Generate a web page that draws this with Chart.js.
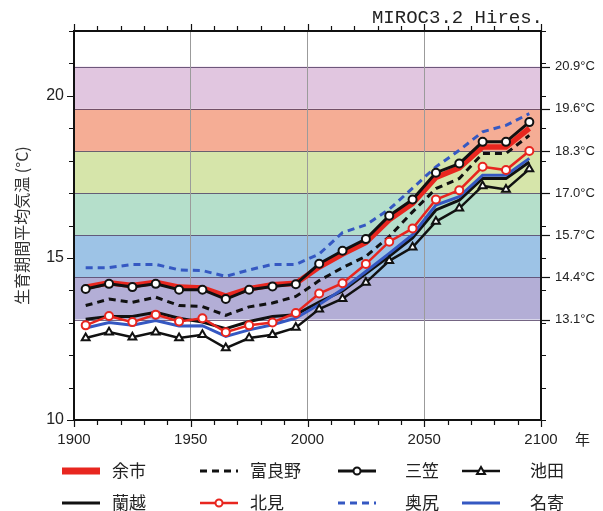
<!DOCTYPE html>
<html lang="ja">
<head>
    <meta charset="UTF-8">
    <title>生育期間平均気温 - MIROC3.2 Hires.</title>
    <style>
        body {
            margin: 0;
            padding: 0;
            background: #fff;
        }
        #wrap {
            width: 603px;
            height: 511px;
        }
    </style>
    <script src="https://cdn.jsdelivr.net/npm/chart.js"></script>
</head>
<body>
    <div id="wrap"><canvas id="tempChart" width="603" height="511"></canvas></div>

    <script>
        // data (growing season mean temperature, °C)
        const years = [1905, 1915, 1925, 1935, 1945, 1955, 1965, 1975, 1985, 1995,
                       2005, 2015, 2025, 2035, 2045, 2055, 2065, 2075, 2085, 2095];

        const yoichi   = [14.10, 14.23, 14.15, 14.25, 14.10, 14.07, 13.82, 14.05, 14.17, 14.22,
                          14.72, 15.12, 15.48, 16.18, 16.68, 17.48, 17.78, 18.42, 18.42, 19.00];
        const furano   = [13.53, 13.73, 13.63, 13.79, 13.53, 13.50, 13.23, 13.49, 13.61, 13.81,
                          14.30, 14.70, 15.05, 15.66, 16.42, 17.14, 17.45, 18.22, 18.22, 18.78];
        const mikasa   = [14.04, 14.20, 14.10, 14.20, 14.02, 14.02, 13.73, 14.02, 14.12, 14.19,
                          14.82, 15.22, 15.58, 16.30, 16.80, 17.63, 17.91, 18.58, 18.58, 19.19];
        const ikeda    = [12.53, 12.71, 12.55, 12.71, 12.53, 12.63, 12.22, 12.53, 12.63, 12.85,
                          13.42, 13.74, 14.24, 14.91, 15.33, 16.12, 16.53, 17.22, 17.11, 17.74];
        const rankoshi = [13.11, 13.19, 13.19, 13.32, 13.14, 13.02, 12.82, 13.04, 13.19, 13.25,
                          13.64, 13.98, 14.52, 15.05, 15.62, 16.48, 16.78, 17.45, 17.45, 17.96];
        const kitami   = [12.92, 13.21, 13.02, 13.25, 13.04, 13.14, 12.71, 12.92, 13.01, 13.30,
                          13.90, 14.22, 14.81, 15.50, 15.91, 16.80, 17.09, 17.81, 17.71, 18.30];
        const okushiri = [14.70, 14.70, 14.80, 14.80, 14.63, 14.61, 14.43, 14.63, 14.80, 14.80,
                          15.12, 15.78, 16.02, 16.50, 17.15, 17.81, 18.32, 18.89, 19.09, 19.45];
        const nayoro   = [12.84, 13.01, 12.92, 13.07, 12.90, 12.91, 12.58, 12.78, 12.94, 13.14,
                          13.56, 14.03, 14.58, 15.14, 15.72, 16.63, 16.89, 17.55, 17.55, 18.07];

        const stationNames = ['余市', '富良野', '三笠', '池田', '蘭越', '北見', '奥尻', '名寄'];

        // temperature classes on the right axis
        const bandEdges = [13.1, 14.4, 15.7, 17.0, 18.3, 19.6, 20.9];
        const bandColors = ['#b3aed6', '#9dc3e6', '#b5dfcb', '#d6e5aa', '#f5ad95', '#e1c6e0'];

        const leftLabels = [10, 15, 20];
        const xLabels = [1900, 1950, 2000, 2050, 2100];

        const RED = '#e8261f';
        const BLACK = '#111111';
        const BLUE = '#3558c2';
        const CJK = '"Noto Sans CJK JP", "Noto Sans", sans-serif';
        const SANS = '"Liberation Sans", Arial, sans-serif';

        function series(vals) {
            return vals.map((v, i) => ({ x: years[i], y: v }));
        }

        // order: lower number is drawn on top
        function line(label, vals, color, width, order, extra) {
            return Object.assign({
                label: label,
                data: series(vals),
                borderColor: color,
                backgroundColor: color,
                borderWidth: width,
                pointRadius: 0,
                pointHoverRadius: 0,
                tension: 0,
                fill: false,
                order: order
            }, extra || {});
        }

        const marker = (color, style) => ({
            pointRadius: style === 'triangle' ? 4.5 : 4,
            pointStyle: style,
            pointBackgroundColor: '#fff',
            pointBorderColor: color,
            pointBorderWidth: 2
        });

        const datasets = [
            line(stationNames[0], yoichi, RED, 5.5, 8),
            line(stationNames[1], furano, BLACK, 3, 6, { borderDash: [7, 5] }),
            line(stationNames[2], mikasa, BLACK, 3, 1, marker(BLACK, 'circle')),
            line(stationNames[3], ikeda, BLACK, 2.5, 3, marker(BLACK, 'triangle')),
            line(stationNames[4], rankoshi, BLACK, 3, 5),
            line(stationNames[5], kitami, RED, 2.5, 2, marker(RED, 'circle')),
            line(stationNames[6], okushiri, BLUE, 3, 7, { borderDash: [7, 5] }),
            line(stationNames[7], nayoro, BLUE, 3, 4)
        ];

        // coloured bands behind everything
        const bandsPlugin = {
            id: 'bands',
            beforeDraw(chart) {
                const { ctx, chartArea: a, scales: { y } } = chart;
                ctx.save();
                for (let i = 0; i < bandColors.length; i++) {
                    const top = y.getPixelForValue(bandEdges[i + 1]);
                    const bot = y.getPixelForValue(bandEdges[i]);
                    ctx.fillStyle = bandColors[i];
                    ctx.fillRect(a.left, top, a.right - a.left, bot - top);
                }
                ctx.strokeStyle = 'rgba(70, 50, 90, 0.75)';
                ctx.lineWidth = 1;
                bandEdges.forEach(v => {
                    const py = Math.round(y.getPixelForValue(v)) + 0.5;
                    ctx.beginPath();
                    ctx.moveTo(a.left, py);
                    ctx.lineTo(a.right, py);
                    ctx.stroke();
                });
                ctx.restore();
            }
        };

        // frame, minor ticks, title, legend
        const decorPlugin = {
            id: 'decor',
            afterDraw(chart) {
                const { ctx, chartArea: a, scales: { x, y } } = chart;
                ctx.save();
                ctx.strokeStyle = BLACK;

                // top border
                ctx.lineWidth = 2;
                ctx.beginPath();
                ctx.moveTo(a.left - 1, a.top);
                ctx.lineTo(a.right + 1, a.top);
                ctx.stroke();

                // x ticks every 10 years, top and bottom
                ctx.lineWidth = 1.2;
                for (let yr = 1900; yr <= 2100; yr += 10) {
                    const px = Math.round(x.getPixelForValue(yr)) + 0.5;
                    const len = yr % 50 === 0 ? 7 : 5;
                    ctx.beginPath();
                    ctx.moveTo(px, a.bottom);
                    ctx.lineTo(px, a.bottom + len);
                    ctx.moveTo(px, a.top);
                    ctx.lineTo(px, a.top - len);
                    ctx.stroke();
                }

                // y ticks every 1 degree, left and right
                for (let v = 10; v <= 22; v++) {
                    const py = Math.round(y.getPixelForValue(v)) + 0.5;
                    const len = v % 5 === 0 ? 7 : 5;
                    ctx.beginPath();
                    ctx.moveTo(a.left, py);
                    ctx.lineTo(a.left - len, py);
                    ctx.moveTo(a.right, py);
                    ctx.lineTo(a.right + 5, py);
                    ctx.stroke();
                }
                // band ticks on the right
                bandEdges.forEach(v => {
                    const py = Math.round(y.getPixelForValue(v)) + 0.5;
                    ctx.beginPath();
                    ctx.moveTo(a.right, py);
                    ctx.lineTo(a.right + 9, py);
                    ctx.stroke();
                });

                // model name
                ctx.fillStyle = '#222';
                ctx.font = '19px "Liberation Mono", "DejaVu Sans Mono", monospace';
                ctx.textAlign = 'right';
                ctx.textBaseline = 'alphabetic';
                ctx.fillText('MIROC3.2 Hires.', a.right + 2, 23);

                // unit after the x axis
                ctx.font = '15px ' + CJK;
                ctx.textAlign = 'left';
                ctx.textBaseline = 'middle';
                ctx.fillText('年', 575, 439);

                // legend, 4 columns x 2 rows
                const colX = [62, 200, 338, 462];
                const textX = [112, 250, 405, 530];
                const rowY = [471, 503];
                chart.data.datasets.forEach((ds, i) => {
                    const col = i % 4, row = Math.floor(i / 4);
                    const x0 = colX[col], x1 = x0 + 38, yy = rowY[row];
                    ctx.save();
                    ctx.strokeStyle = ds.borderColor;
                    ctx.lineWidth = ds.borderWidth === 5.5 ? 7 : ds.borderWidth;
                    ctx.setLineDash(ds.borderDash || []);
                    ctx.beginPath();
                    ctx.moveTo(x0, yy);
                    ctx.lineTo(x1, yy);
                    ctx.stroke();
                    ctx.setLineDash([]);
                    if (ds.pointStyle) {
                        const cx = (x0 + x1) / 2;
                        ctx.fillStyle = '#fff';
                        ctx.strokeStyle = ds.pointBorderColor;
                        ctx.lineWidth = 2;
                        ctx.beginPath();
                        if (ds.pointStyle === 'circle') {
                            ctx.arc(cx, yy, 3.5, 0, Math.PI * 2);
                        } else {
                            ctx.moveTo(cx, yy - 4);
                            ctx.lineTo(cx + 4, yy + 3);
                            ctx.lineTo(cx - 4, yy + 3);
                            ctx.closePath();
                        }
                        ctx.fill();
                        ctx.stroke();
                    }
                    ctx.restore();
                    ctx.fillStyle = '#222';
                    ctx.font = '17px ' + CJK;
                    ctx.textAlign = 'left';
                    ctx.textBaseline = 'middle';
                    ctx.fillText(ds.label, textX[col], yy);
                });
                ctx.restore();
            }
        };

        function renderChart() {
            const ctx = document.getElementById('tempChart').getContext('2d');
            new Chart(ctx, {
                type: 'line',
                data: { datasets: datasets },
                options: {
                    responsive: false,
                    devicePixelRatio: 1,
                    animation: false,
                    layout: { padding: { top: 31, left: 0, right: 0, bottom: 0 } },
                    plugins: {
                        legend: { display: false },
                        tooltip: { enabled: false },
                        title: { display: false }
                    },
                    scales: {
                        x: {
                            type: 'linear',
                            min: 1900,
                            max: 2100,
                            afterBuildTicks: s => { s.ticks = xLabels.map(v => ({ value: v })); },
                            afterFit: s => { s.height = 91; },
                            ticks: {
                                padding: 11,
                                color: '#222',
                                font: { family: SANS, size: 15 },
                                maxRotation: 0,
                                callback: v => String(v)
                            },
                            grid: {
                                drawTicks: false,
                                lineWidth: 1,
                                color: c => (c.tick && c.tick.value > 1900 && c.tick.value < 2100) ? '#9b9b9b' : 'rgba(0,0,0,0)'
                            },
                            border: { display: true, color: BLACK, width: 2 }
                        },
                        y: {
                            type: 'linear',
                            position: 'left',
                            min: 10,
                            max: 22,
                            afterBuildTicks: s => { s.ticks = leftLabels.map(v => ({ value: v })); },
                            afterFit: s => { s.width = 74; },
                            ticks: {
                                padding: 10,
                                color: '#222',
                                font: { family: SANS, size: 16 }
                            },
                            grid: { display: false, drawTicks: false },
                            border: { display: true, color: BLACK, width: 2 },
                            title: {
                                display: true,
                                text: '生育期間平均気温 (°C)',
                                color: '#333',
                                font: { family: CJK, size: 16 },
                                padding: { top: 12, bottom: 0 }
                            }
                        },
                        y2: {
                            type: 'linear',
                            position: 'right',
                            min: 10,
                            max: 22,
                            afterBuildTicks: s => { s.ticks = bandEdges.map(v => ({ value: v })); },
                            afterFit: s => { s.width = 62; },
                            ticks: {
                                padding: 14,
                                color: '#222',
                                font: { family: SANS, size: 13 },
                                callback: v => v.toFixed(1) + '°C'
                            },
                            grid: { display: false, drawTicks: false },
                            border: { display: true, color: BLACK, width: 2 }
                        }
                    }
                },
                plugins: [bandsPlugin, decorPlugin]
            });
        }

        document.addEventListener('DOMContentLoaded', renderChart);
    </script>
</body>
</html>
